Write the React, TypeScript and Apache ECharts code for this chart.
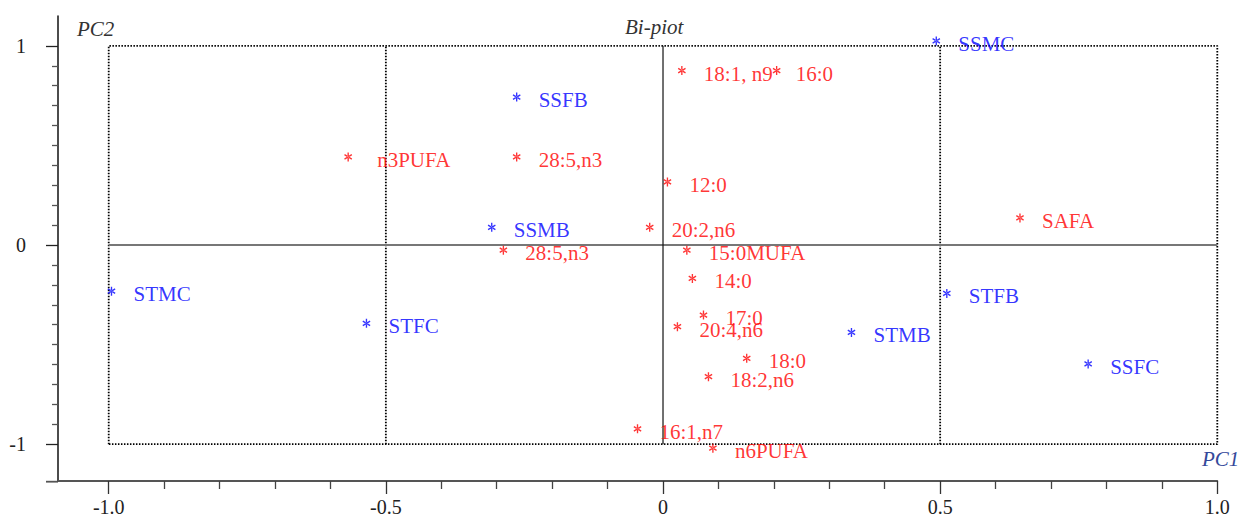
import React, { useEffect, useRef } from "react";
import * as echarts from "echarts";

// ---- data ----
const samples = ["SSMC", "SSFB", "SSMB", "STMC", "STFB", "STFC", "STMB", "SSFC"];
const samplePC1 = [0.493, -0.264, -0.309, -0.995, 0.512, -0.535, 0.34, 0.767];
const samplePC2 = [1.025, 0.743, 0.089, -0.232, -0.243, -0.393, -0.439, -0.597];

const variables = [
  "18:1, n9", "16:0", "n3PUFA", "28:5,n3", "12:0", "SAFA", "20:2,n6", "28:5,n3",
  "15:0MUFA", "14:0", "17:0", "20:4,n6", "18:0", "18:2,n6", "16:1,n7", "n6PUFA",
];
const variablePC1 = [0.034, 0.205, -0.568, -0.264, 0.008, 0.644, -0.024, -0.288, 0.043, 0.053, 0.073, 0.026, 0.151, 0.082, -0.046, 0.09];
const variablePC2 = [0.876, 0.876, 0.442, 0.442, 0.317, 0.136, 0.089, -0.026, -0.026, -0.168, -0.352, -0.41, -0.569, -0.661, -0.923, -1.02];

const xMajorTicks = [-1, -0.5, 0, 0.5, 1];
const xMinorTicks = [-0.9, -0.8, -0.7, -0.6, -0.4, -0.3, -0.2, -0.1, 0.1, 0.2, 0.3, 0.4, 0.6, 0.7, 0.8, 0.9];
const yMajorTicks = [-1, 0, 1];
const yMinorTicks = [-0.9, -0.8, -0.7, -0.6, -0.5, -0.4, -0.3, -0.2, -0.1, 0.1, 0.2, 0.3, 0.4, 0.5, 0.6, 0.7, 0.8, 0.9];

const boxOutline = [[-1, -1], [-1, 1], [1, 1], [1, -1], [-1, -1]];
const leftDivider = [[-0.5, -1], [-0.5, 1]];
const rightDivider = [[0.5, -1], [0.5, 1]];
const verticalZero = [[0, -1], [0, 1]];
const horizontalZero = [[-1, 0], [1, 0]];

// label gap overrides (style only)
const labelGap: Record<string, number> = { n3PUFA: 25, "16:0": 15 };

const STAR =
  "path://M42 0L58 0L58 100L42 100Z M2.7 31.9L89.3 81.9L97.3 68.1L10.7 18.1Z M97.3 31.9L10.7 81.9L2.7 68.1L89.3 18.1Z";

const SERIF = '"Liberation Serif", "Times New Roman", serif';
const BLUE = "#0000FF";
const RED = "#FF0000";

const X_MIN = -1.0915;
const X_MAX = 1.0;
const Y_MIN = -1.185;
const Y_MAX = 1.15;

function pointSeries(names: string[], xs: number[], ys: number[], color: string) {
  return {
    type: "scatter",
    xAxisIndex: 0,
    yAxisIndex: 0,
    symbol: STAR,
    symbolSize: [8, 9],
    itemStyle: { color },
    z: 5,
    label: {
      show: true,
      position: "right",
      distance: 18,
      offset: [0, 3],
      formatter: "{b}",
      color,
      fontFamily: SERIF,
      fontSize: 21,
    },
    data: names.map((n, i) => {
      const item: any = { name: n, value: [xs[i], ys[i]] };
      if (labelGap[n] !== undefined) item.label = { distance: labelGap[n] };
      return item;
    }),
  };
}

function lineSeries(data: number[][], style: any, z = 2) {
  return {
    type: "line",
    xAxisIndex: 0,
    yAxisIndex: 0,
    data,
    symbol: "none",
    silent: true,
    z,
    lineStyle: style,
  };
}

const dotted = { color: "#000", width: 1.8, type: [1.5, 1.5] };

export default function App() {
  const ref = useRef<HTMLDivElement>(null);
  useEffect(() => {
    const chart = echarts.init(ref.current!, null, { renderer: "svg" });
    const axisTextStyle = { fontFamily: SERIF, fontSize: 20, color: "#222" };
    const option: any = {
      animation: false,
      backgroundColor: "#fff",
      grid: { left: 58, right: 21.7, top: 16, bottom: 35.3, containLabel: false },
      xAxis: [
        {
          type: "value",
          min: X_MIN,
          max: X_MAX,
          position: "bottom",
          axisLine: { show: true, onZero: false, lineStyle: { color: "#555", width: 1.8 } },
          axisTick: { show: true, customValues: xMajorTicks, length: 13, lineStyle: { color: "#333", width: 1.3 } },
          axisLabel: {
            show: true,
            customValues: xMajorTicks,
            margin: 16,
            formatter: (v: number) => (v === 0 ? "0" : v.toFixed(1)),
            ...axisTextStyle,
          },
          splitLine: { show: false },
        },
        {
          type: "value",
          min: X_MIN,
          max: X_MAX,
          position: "bottom",
          offset: 0,
          axisLine: { show: false, onZero: false },
          axisTick: { show: true, customValues: xMinorTicks, length: 8, lineStyle: { color: "#444", width: 1.3 } },
          axisLabel: { show: false },
          splitLine: { show: false },
        },
      ],
      yAxis: [
        {
          type: "value",
          min: Y_MIN,
          max: Y_MAX,
          position: "left",
          axisLine: { show: true, onZero: false, lineStyle: { color: "#111", width: 1.5 } },
          axisTick: { show: true, customValues: yMajorTicks, length: 12, lineStyle: { color: "#222", width: 1.3 } },
          axisLabel: {
            show: true,
            customValues: yMajorTicks,
            margin: 32,
            formatter: (v: number) => String(v),
            ...axisTextStyle,
          },
          splitLine: { show: false },
        },
        {
          type: "value",
          min: Y_MIN,
          max: Y_MAX,
          position: "left",
          offset: 0,
          axisLine: { show: false, onZero: false },
          axisTick: { show: true, customValues: yMinorTicks, length: 6, lineStyle: { color: "#555", width: 1.3 } },
          axisLabel: { show: false },
          splitLine: { show: false },
        },
      ],
      graphic: [
        {
          type: "line",
          shape: { x1: 46, y1: 481.7, x2: 58, y2: 481.7 },
          style: { stroke: "#555", lineWidth: 1.8 },
        },
        {
          type: "text",
          x: 625,
          y: 16,
          style: { text: "Bi-piot", fill: "#333", font: 'italic 21px "Liberation Serif"', align: "left", verticalAlign: "top" },
        },
        {
          type: "text",
          x: 77,
          y: 18,
          style: { text: "PC2", fill: "#333", font: 'italic 21px "Liberation Serif"', align: "left", verticalAlign: "top" },
        },
        {
          type: "text",
          x: 1202,
          y: 448,
          style: { text: "PC1", fill: "#34499A", font: 'italic 21px "Liberation Serif"', align: "left", verticalAlign: "top" },
        },
      ],
      series: [
        lineSeries(boxOutline, dotted),
        lineSeries(leftDivider, dotted),
        lineSeries(rightDivider, dotted),
        lineSeries(horizontalZero, { color: "#777", width: 1.8 }),
        lineSeries(verticalZero, { color: "#111", width: 1.2 }),
        pointSeries(samples, samplePC1, samplePC2, BLUE),
        pointSeries(variables, variablePC1, variablePC2, RED),
      ],
    };
    chart.setOption(option);
    return () => chart.dispose();
  }, []);
  return (
    <div
      ref={ref}
      style={{ position: "fixed", left: 0, top: 0, width: 1239, height: 517, background: "#fff" }}
    />
  );
}
